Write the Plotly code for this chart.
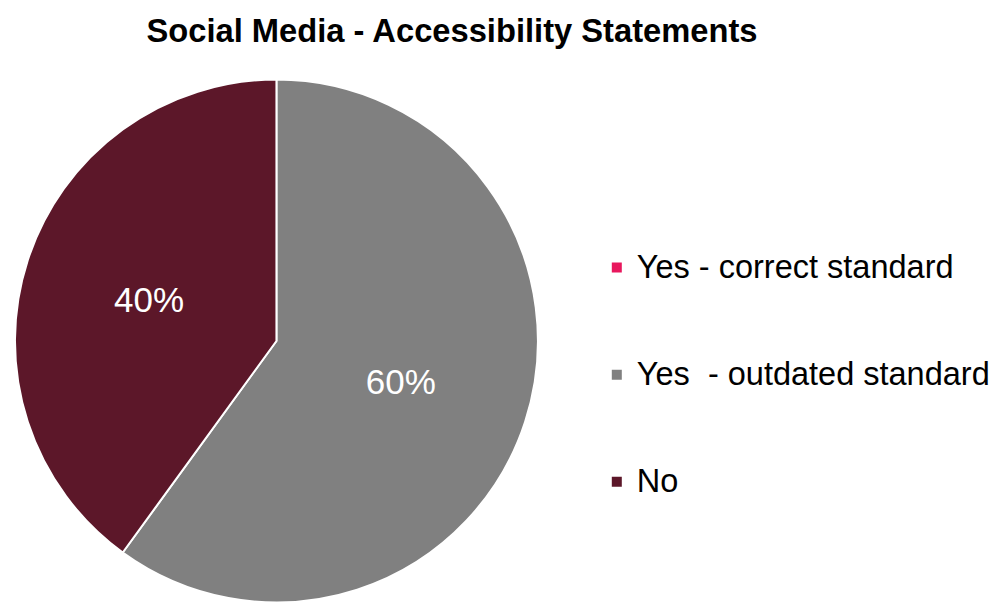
import plotly.graph_objects as go

# Share of social media accounts by accessibility-statement status
labels = ["Yes - correct standard", "Yes  - outdated standard", "No"]
values = [0, 60, 40]
colors = ["#E8175D", "#808080", "#5C1729"]

W, H = 995, 603
cx, cy, r = 277, 341, 262

# Slice labels: hide the empty slice
slice_text = [f"{v}%" if v else "" for v in values]

# Pad legend entries with blank lines to spread the items vertically
legend_labels = [f"&nbsp;<br><span style='font-size:32.5px'>{s}</span><br>&nbsp;" for s in labels]

fig = go.Figure(
    go.Pie(
        labels=legend_labels,
        values=values,
        text=slice_text,
        textinfo="text",
        textposition="inside",
        insidetextorientation="horizontal",
        textfont=dict(family="Liberation Sans, Arial", size=35, color="white"),
        marker=dict(colors=colors, line=dict(color="white", width=2)),
        sort=False,
        direction="clockwise",
        rotation=0,
        hoverinfo="none",
        domain=dict(x=[(cx - r) / W, (cx + r) / W], y=[0, 2 * r / H]),
    )
)

fig.update_layout(
    width=W,
    height=H,
    margin=dict(l=0, r=0, t=0, b=0),
    paper_bgcolor="white",
    plot_bgcolor="white",
    title=dict(
        text="<b>Social Media - Accessibility Statements</b>",
        x=452 / W,
        xanchor="center",
        y=1 - 31 / H,
        yanchor="middle",
        font=dict(family="Liberation Sans, Arial", size=32.7, color="black"),
    ),
    legend=dict(
        x=598 / W,
        xanchor="left",
        y=1 - 375 / H,
        yanchor="middle",
        font=dict(family="Liberation Sans, Arial", size=26.7, color="black"),
        bgcolor="rgba(0,0,0,0)",
    ),
)

fig.write_html("out.html")
